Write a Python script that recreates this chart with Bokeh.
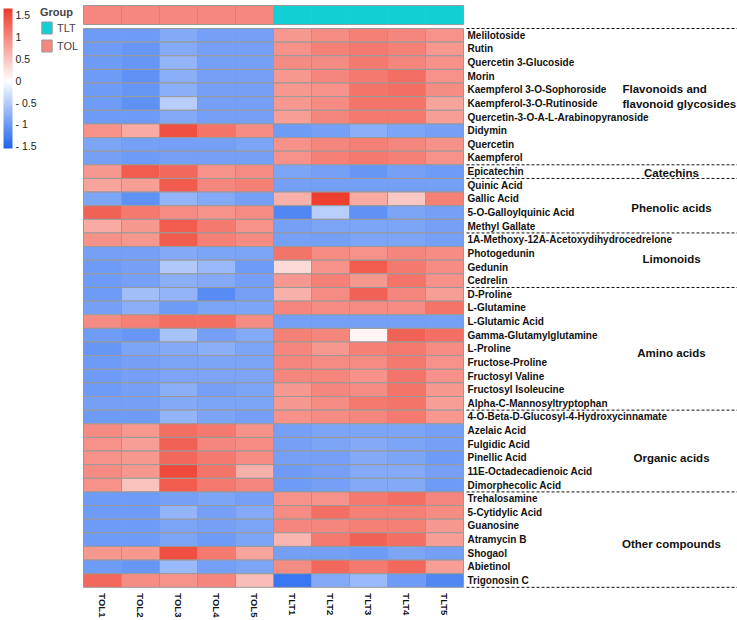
import numpy as np
from bokeh.plotting import figure
from bokeh.models import (ColumnDataSource, Range1d, LinearColorMapper, ColorBar,
                          FixedTicker, Legend, LegendItem)
from bokeh.transform import transform
from bokeh.embed import file_html
from bokeh.resources import INLINE
from bokeh.core.properties import value

# ---------------- data ----------------
compounds = [
    "Melilotoside", "Rutin", "Quercetin 3-Glucoside", "Morin",
    "Kaempferol 3-O-Sophoroside", "Kaempferol-3-O-Rutinoside",
    "Quercetin-3-O-A-L-Arabinopyranoside", "Didymin", "Quercetin", "Kaempferol",
    "Epicatechin", "Quinic Acid", "Gallic Acid", "5-O-Galloylquinic Acid", "Methyl Gallate",
    "1A-Methoxy-12A-Acetoxydihydrocedrelone", "Photogedunin", "Gedunin", "Cedrelin",
    "D-Proline", "L-Glutamine", "L-Glutamic Acid", "Gamma-Glutamylglutamine", "L-Proline",
    "Fructose-Proline", "Fructosyl Valine", "Fructosyl Isoleucine",
    "Alpha-C-Mannosyltryptophan", "4-O-Beta-D-Glucosyl-4-Hydroxycinnamate",
    "Azelaic Acid", "Fulgidic Acid", "Pinellic Acid", "11E-Octadecadienoic Acid",
    "Dimorphecolic Acid", "Trehalosamine", "5-Cytidylic Acid", "Guanosine", "Atramycin B",
    "Shogaol", "Abietinol", "Trigonosin C",
]
samples = ["TOL1", "TOL2", "TOL3", "TOL4", "TOL5", "TLT1", "TLT2", "TLT3", "TLT4", "TLT5"]
sample_group = ["TOL", "TOL", "TOL", "TOL", "TOL", "TLT", "TLT", "TLT", "TLT", "TLT"]
legend_groups = ["TLT", "TOL"]
class_names = ["Flavonoids and\nflavonoid glycosides", "Catechins", "Phenolic acids",
               "Limonoids", "Amino acids", "Organic acids", "Other compounds"]
class_sizes = [10, 1, 4, 4, 9, 6, 7]
cbar_ticks = [-1.5, -1.0, -0.5, 0.0, 0.5, 1.0, 1.5]
cbar_labels = ["- 1.5", "- 1", "- 0.5", "0", "0.5", "1", "1.5"]

TOL1 = [-1.0, -1.0, -1.0, -1.0, -1.0, -1.0, -1.0, 0.9, -0.9, -0.95,
        0.85, 0.75, -0.9, 1.3, 0.7, 0.9, -0.95, -1.0, -1.0, -1.0,
        -0.95, 0.95, -1.0, -1.05, -1.0, -1.0, -1.0, -0.95, -1.0, 0.95,
        0.9, 0.9, 0.95, 0.9, -1.0, -1.0, -1.0, -1.0, 0.85, -1.0, 1.25]
TOL2 = [-1.0, -1.05, -1.05, -1.1, -1.05, -1.1, -1.0, 0.7, -0.95, -1.0,
        1.35, 0.8, -1.1, 1.1, 0.85, 0.85, -0.95, -0.95, -0.95, -0.65,
        -0.8, 1.05, -1.05, -0.9, -0.95, -0.95, -0.95, -0.95, -1.0, 0.85,
        0.8, 0.85, 0.85, 0.5, -1.0, -1.0, -1.0, -1.0, 0.85, -1.05, 0.95]
TOL3 = [-0.85, -0.85, -0.75, -0.8, -0.8, -0.5, -0.85, 1.45, -0.95, -0.95,
        1.25, 1.35, -0.75, 0.95, 1.35, 1.35, -0.85, -0.55, -0.8, -0.75,
        -1.0, 1.2, -0.6, -0.85, -0.9, -0.9, -0.8, -0.85, -0.75, 1.2,
        1.3, 1.25, 1.5, 1.35, -0.95, -0.75, -0.9, -0.9, 1.45, -0.7, 0.9]
TOL4 = [-0.95, -0.95, -0.95, -0.95, -0.95, -0.95, -0.95, 1.15, -0.95, -0.95,
        0.9, 1.0, -0.85, 0.9, 1.1, 1.05, -0.9, -0.7, -0.85, -1.15,
        -0.9, 1.2, -0.95, -0.8, -0.9, -0.9, -0.95, -0.9, -0.9, 1.1,
        1.0, 1.1, 1.15, 1.1, -0.9, -0.95, -0.95, -1.0, 1.1, -0.95, 1.0]
TOL5 = [-0.95, -0.95, -0.95, -0.95, -0.95, -0.95, -0.95, 0.95, -0.9, -0.95,
        0.95, 1.05, -0.95, 0.95, 0.9, 0.95, -0.9, -1.0, -0.95, -0.95,
        -0.9, 0.95, -0.85, -0.9, -0.9, -0.9, -0.9, -0.9, -0.95, 0.9,
        0.95, 0.95, 0.65, 1.0, -0.95, -0.85, -0.9, -0.9, 0.75, -0.9, 0.55]
TLT1 = [0.85, 0.9, 0.95, 0.85, 0.85, 0.85, 0.8, -1.0, 0.9, 0.9,
        -0.9, -0.95, 0.65, -1.2, -0.95, -0.95, 1.15, 0.3, 0.85, 0.65,
        1.0, -0.95, 1.05, 1.0, 1.0, 1.0, 0.85, 0.85, 0.9, -0.95,
        -0.95, -0.95, -1.0, -1.0, 0.9, 0.95, 1.0, 0.6, -0.95, 0.95, -1.35]
TLT2 = [0.95, 1.05, 0.95, 1.0, 0.9, 0.95, 1.0, -0.95, 1.0, 1.05,
        -0.95, -0.95, 1.6, -0.5, -0.9, -0.95, 0.95, 0.9, 1.05, 0.95,
        0.95, -0.95, 1.0, 0.85, 0.95, 1.0, 1.0, 0.95, 0.95, -0.9,
        -0.9, -0.95, -0.95, -0.95, 0.9, 1.2, 1.0, 1.1, -0.95, 1.25, -0.85]
TLT3 = [1.05, 1.1, 1.1, 1.1, 1.15, 1.15, 1.1, -0.8, 1.05, 1.1,
        -1.05, -0.95, 0.7, -1.1, -0.9, -0.9, 0.9, 1.35, 0.85, 1.3,
        0.95, -0.95, 0.08, 1.05, 0.95, 0.9, 0.95, 1.1, 1.0, -0.9,
        -0.85, -0.85, -0.85, -0.85, 1.1, 1.05, 1.05, 1.3, -1.0, 1.1, -0.7]
TLT4 = [1.0, 1.05, 1.0, 1.2, 1.2, 1.15, 1.1, -0.9, 1.0, 1.05,
        -0.95, -0.95, 0.45, -0.9, -0.9, -0.9, 1.0, 1.1, 1.15, 1.0,
        0.95, -0.95, 1.3, 1.1, 1.1, 1.15, 1.15, 1.15, 1.1, -0.9,
        -0.9, -0.9, -0.85, -0.85, 1.2, 1.05, 1.05, 1.2, -0.9, 1.25, -1.0]
TLT5 = [0.9, 0.85, 0.9, 0.9, 0.95, 0.75, 0.8, -0.95, 0.9, 0.9,
        -1.0, -0.95, 1.05, -0.95, -0.95, -0.95, 0.95, 0.95, 0.9, 0.8,
        1.15, -0.95, 1.2, 0.95, 0.9, 0.9, 0.85, 0.8, 0.85, -0.95,
        -0.95, -1.0, -0.95, -1.0, 1.0, 0.95, 0.85, 0.8, -0.95, 0.8, -1.2]
columns = [TOL1, TOL2, TOL3, TOL4, TOL5, TLT1, TLT2, TLT3, TLT4, TLT5]

# ---------------- style / layout ----------------
W, H = 737, 620
HEAT_L, HEAT_T = 83, 28
COL_W, ROW_H = 38.0, 13.63
FONT = "Liberation Sans"
CELL_BORDER = "#9a9a9a"
GROUP_COLORS = {"TLT": "#12CFD3", "TOL": "#F5877F"}
LOW, HIGH = -1.55, 1.65
BLUE_END = np.array([30, 100, 240])
RED_END = np.array([238, 58, 42])
WHITE = np.array([255, 255, 255])


def dx(px):
    return (px - HEAT_L) / COL_W


def dy(px):
    return (px - HEAT_T) / ROW_H


# palette: blue -> white (at 0) -> red
palette = []
for v in np.linspace(LOW, HIGH, 256):
    if v < 0:
        c = WHITE + (BLUE_END - WHITE) * (v / LOW)
    else:
        c = WHITE + (RED_END - WHITE) * (v / HIGH)
    palette.append("#%02x%02x%02x" % tuple(int(round(t)) for t in c))
mapper = LinearColorMapper(palette=palette, low=LOW, high=HIGH)

n_rows, n_cols = len(compounds), len(samples)

p = figure(width=W, height=H, output_backend="svg", toolbar_location=None,
           x_range=Range1d(dx(0), dx(W)), y_range=Range1d(dy(H), dy(0)),
           min_border=0, x_axis_location=None, y_axis_location=None)
p.grid.visible = False
p.outline_line_color = None

# heatmap cells
xs, ys, vals = [], [], []
for j, col in enumerate(columns):
    for i, v in enumerate(col):
        xs.append(j + 0.5)
        ys.append(i + 0.5)
        vals.append(v)
src = ColumnDataSource(dict(x=xs, y=ys, v=vals))
p.rect(x="x", y="y", width=1, height=1, source=src,
       fill_color=transform("v", mapper), line_color=CELL_BORDER, line_width=1)

# group annotation bar
ann_top, ann_bot = dy(5), dy(24)
group_renderers = {}
for g in legend_groups:
    gx = [j + 0.5 for j, sg in enumerate(sample_group) if sg == g]
    r = p.rect(x=gx, y=[(ann_top + ann_bot) / 2] * len(gx), width=1,
               height=ann_bot - ann_top, fill_color=GROUP_COLORS[g],
               line_color=CELL_BORDER, line_width=1)
    group_renderers[g] = r

# row labels (right)
p.text(x=[dx(467)] * n_rows, y=[i + 0.5 for i in range(n_rows)], text=compounds,
       text_font=value(FONT), text_font_size="10px", text_font_style="bold",
       text_baseline="middle", text_align="left", text_color="#111111")

# column labels (below)
p.text(x=[j + 0.5 for j in range(n_cols)], y=[n_rows + dy(HEAT_T + 6)] * n_cols,
       text=samples, angle=-np.pi / 2, text_font=value(FONT), text_font_size="9.5px",
       text_font_style="bold", text_baseline="middle", text_align="left",
       text_color="#111111")

# class separators and labels
bounds = np.cumsum([0] + class_sizes)
p.segment(x0=[dx(466)] * len(bounds), x1=[dx(W)] * len(bounds), y0=list(bounds),
          y1=list(bounds), line_color="#111111", line_width=1, line_dash="3 2")
nudges_px = [0, 1, 2, -1, 4, 7, 4]
mids = [(bounds[k] + bounds[k + 1]) / 2 + nudges_px[k] / ROW_H for k in range(len(class_sizes))]
p.text(x=[dx(622)], y=[mids[0]], text=[class_names[0]], text_font=value(FONT),
       text_font_size="11.5px", text_font_style="bold", text_baseline="middle",
       text_align="left", text_color="#111111", text_line_height=1.25)
p.text(x=[dx(671)] * (len(class_names) - 1), y=mids[1:], text=class_names[1:],
       text_font=value(FONT), text_font_size="11.5px", text_font_style="bold",
       text_baseline="middle", text_align="center", text_color="#111111")

# color bar
cb = ColorBar(color_mapper=mapper, location=(3, H - 8 - 140), width=9, height=140,
              padding=0, margin=0, ticker=FixedTicker(ticks=cbar_ticks),
              major_label_overrides={t: l for t, l in zip(cbar_ticks, cbar_labels)},
              major_tick_line_color=None, minor_tick_line_color=None,
              bar_line_color=None, border_line_color=None, background_fill_alpha=0,
              label_standoff=3, major_label_text_font=FONT,
              major_label_text_font_size="10.5px", major_label_text_color="#222222")
p.add_layout(cb)

# group legend
legend = Legend(items=[LegendItem(label=g, renderers=[group_renderers[g]]) for g in legend_groups],
                title="Group", location=(40, H - 5 - 48), glyph_width=13, glyph_height=15,
                label_height=15, spacing=3, padding=0, margin=0, label_standoff=4,
                title_standoff=2, border_line_color=None, background_fill_alpha=0,
                title_text_font=FONT, title_text_font_size="11px",
                title_text_font_style="bold", label_text_font=FONT,
                label_text_font_size="11px")
p.add_layout(legend)

open("out.html", "w").write(file_html(p, INLINE))
